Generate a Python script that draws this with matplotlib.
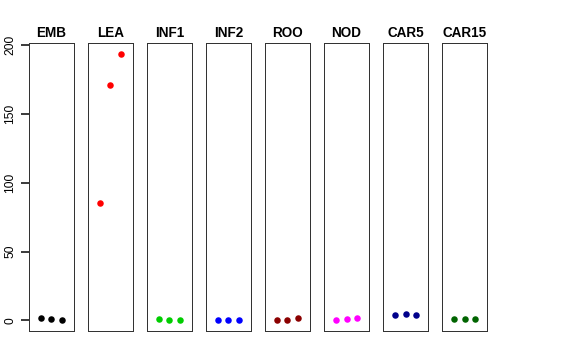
import matplotlib
matplotlib.use("Agg")
import matplotlib.pyplot as plt

plt.rcParams['font.family'] = ['Liberation Sans', 'DejaVu Sans']

# one panel per tissue, three replicates each
tissues = ['EMB', 'LEA', 'INF1', 'INF2', 'ROO', 'NOD', 'CAR5', 'CAR15']
values = [
    [1.4, 1.0, 0.5],
    [85.5, 171.0, 193.5],
    [0.7, 0.0, 0.3],
    [0.0, 0.0, 0.0],
    [0.0, 0.3, 1.7],
    [0.0, 0.7, 1.7],
    [4.1, 4.3, 3.6],
    [0.7, 0.7, 0.7],
]
colors = ['black', 'red', '#00CD00', 'blue', '#8B0000', 'magenta', '#00008B', '#006400']
yticks = [0, 50, 100, 150, 200]

W, H = 576, 360
fig = plt.figure(figsize=(W / 72, H / 72), dpi=72)

left0, step, pw = 29, 59.05, 44.5
top, bottom = 43.3, 331

for i, (name, vals, col) in enumerate(zip(tissues, values, colors)):
    x0 = left0 + i * step
    ax = fig.add_axes([x0 / W, 1 - bottom / H, pw / W, (bottom - top) / H])
    ax.plot([1, 2, 3], vals, 'o', color=col, markersize=6.5, markeredgewidth=0)
    ax.set_xlim(-0.16, 4.16)
    ax.set_ylim(-7.76, 201.3)
    ax.set_xticks([])
    for s in ax.spines.values():
        s.set_linewidth(1.0)
        s.set_color('#333333')
    ax.set_title(name, fontsize=13.5, fontweight='bold', pad=6)
    if i == 0:
        ax.set_yticks(yticks)
        ax.set_yticklabels([str(t) for t in yticks], rotation=90, va='center', fontsize=12)
        ax.tick_params(axis='y', direction='out', length=8, width=1.5, pad=5,
                       color='black')
    else:
        ax.set_yticks([])

fig.savefig('out.png', dpi=72)
